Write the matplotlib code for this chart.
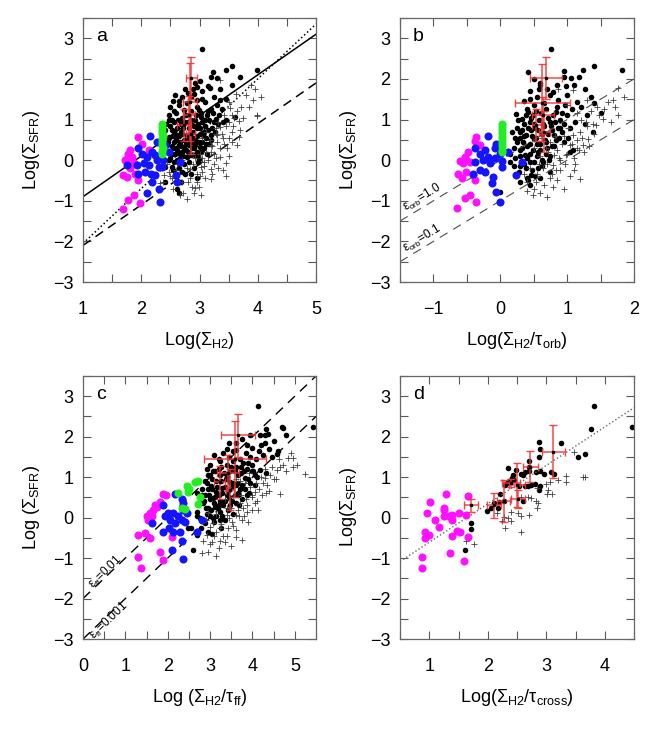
import matplotlib
matplotlib.use('Agg')
import matplotlib.pyplot as plt
from matplotlib.ticker import MultipleLocator

plt.rcParams['font.family'] = ['Liberation Sans', 'DejaVu Sans']
plt.rcParams['mathtext.default'] = 'regular'

# ---- panel a : Log(Sigma_H2) ----
a_dots = [(3.05, 2.73), (3.56, 2.32), (3.45, 2.23), (3.98, 2.23), (3.24, 2.17), (3.19, 2.05), (3.30, 2.02),
          (3.14, 1.83), (3.18, 1.78), (2.96, 1.80), (2.89, 1.76), (2.58, 1.60), (2.70, 1.56), (2.90, 1.64),
          (2.95, 1.47), (3.05, 1.51), (3.10, 1.43), (3.30, 1.35), (2.64, 1.35), (2.56, 1.20), (2.47, 1.11),
          (2.73, 1.23), (2.99, 1.23), (3.19, 1.27), (3.36, 1.47), (3.45, 1.51), (2.47, 0.98), (2.56, 0.94),
          (2.66, 0.98), (3.02, 1.06), (3.13, 1.11), (3.28, 1.02), (2.87, 0.86), (2.53, 0.74), (2.61, 0.61),
          (2.70, 0.65), (2.96, 0.78), (3.07, 0.70), (3.19, 0.61), (2.47, 0.57), (2.56, 0.45), (2.67, 0.45),
          (2.79, 0.53), (2.93, 0.53), (3.05, 0.45), (2.59, 0.29), (2.73, 0.29), (2.90, 0.29), (3.02, 0.21),
          (3.13, 0.16), (2.44, 0.37), (2.53, 0.16), (2.67, 0.16), (2.79, 0.08), (2.47, 0.00), (2.61, 0.00),
          (2.67, -0.04), (2.41, -0.16), (2.53, -0.16), (2.64, -0.20), (2.70, -0.29), (2.61, -0.70),
          (2.64, -0.82), (2.41, -0.53), (2.93, 0.12), (2.99, 0.04), (2.82, 0.37), (3.45, 1.00), (3.61, 1.07),
          (3.31, 0.88), (2.50, 0.85), (2.55, 0.60), (2.62, 0.80), (2.68, 0.70), (2.75, 0.95), (2.78, 0.62),
          (2.82, 0.80), (2.88, 0.55), (2.92, 1.00), (2.98, 0.90), (3.00, 0.65), (3.05, 0.95), (3.10, 0.85),
          (3.12, 0.55), (3.16, 0.40), (3.22, 0.80), (3.25, 0.95), (2.52, 0.35), (2.58, 0.15), (2.64, 0.38),
          (2.70, 0.20), (2.76, 0.25), (2.86, 0.12), (2.90, 0.42), (2.95, 0.20), (3.00, 0.32), (3.08, 0.30),
          (2.48, 0.55), (2.45, 0.20), (2.56, -0.05), (2.66, 0.05), (2.74, -0.10), (2.82, -0.05), (2.90, -0.20),
          (2.98, -0.05), (2.60, 1.15), (2.70, 1.05), (2.85, 1.20), (2.95, 1.30), (3.15, 1.20), (3.05, 1.70),
          (2.85, 1.55), (2.78, 1.40), (2.40, 0.75), (2.50, 1.30), (2.42, 0.90), (2.46, 0.45), (2.50, 0.05),
          (2.52, 1.00), (2.55, 0.30), (2.57, 0.70), (2.60, 0.50), (2.62, 0.25), (2.63, 1.00), (2.65, 0.60),
          (2.68, 0.90), (2.69, 0.35), (2.71, 0.10), (2.72, 0.80), (2.74, 0.50), (2.76, 1.10), (2.77, 0.40),
          (2.80, 0.20), (2.81, 0.95), (2.83, 0.65), (2.84, 0.45), (2.86, 1.00), (2.87, 0.30), (2.89, 0.70),
          (2.91, 0.85), (2.93, 0.38), (2.94, 1.10), (2.96, 0.60), (2.97, 0.10), (2.99, 0.45), (3.01, 0.80),
          (3.03, 1.15), (3.04, 0.25), (3.06, 0.62), (3.09, 1.00), (3.11, 0.40), (3.14, 0.75), (3.17, 1.00),
          (3.20, 0.50), (3.23, 1.15), (3.27, 0.70), (3.33, 1.10), (3.38, 1.25), (3.40, 0.95), (2.60, -0.40),
          (2.68, -0.55), (2.75, -0.35), (2.85, -0.35), (2.95, -0.45), (2.55, -0.25), (2.80, 1.65), (2.92, 1.90),
          (3.00, 1.95), (2.75, 1.75), (3.35, 1.75), (3.55, 1.85), (3.70, 2.05), (3.25, 1.55), (2.65, 1.45),
          (2.55, 1.45)]
a_cross = [(3.36, 1.97), (3.51, 1.43), (3.53, 1.29), (3.62, 1.64), (3.95, 1.76), (3.91, 1.47), (3.99, 1.11),
           (3.68, 0.96), (3.68, 0.57), (3.65, 0.37), (3.30, 0.61), (3.19, 0.37), (3.25, 0.16), (3.36, 0.08),
           (3.45, -0.08), (3.02, -0.16), (2.96, -0.33), (2.84, -0.21), (3.08, -0.04), (3.19, -0.21),
           (2.84, -0.45), (2.87, -0.66), (2.99, -0.66), (3.19, -0.47), (2.53, -0.45), (2.47, -0.29),
           (2.33, -0.57), (2.39, -0.37), (3.42, 1.11), (3.51, 0.94), (3.36, 0.82), (3.28, 0.78), (3.56, 0.45),
           (3.48, 0.29), (3.30, 0.45), (3.98, 1.08), (2.93, -0.69), (2.67, -0.87), (2.37, -0.53), (2.60, -0.25),
           (2.70, -0.55), (2.78, -0.20), (2.92, 0.05), (3.00, 0.15), (3.05, 0.55), (3.12, 0.70), (3.20, 0.20),
           (3.28, 0.05), (3.35, 0.30), (3.40, 0.55), (3.45, 0.85), (3.55, 0.70), (3.60, 1.05), (3.72, 1.30),
           (3.80, 1.60), (3.10, -0.45), (2.55, -0.70), (2.65, -0.35), (2.90, -0.80), (3.05, -0.30),
           (3.15, 0.00), (3.25, -0.10), (2.50, -0.40), (3.50, 0.10), (3.40, -0.25), (2.45, -0.10),
           (2.58, -0.55), (2.62, -0.10), (2.72, -0.80), (2.80, -0.55), (2.88, -0.10), (2.95, -0.55),
           (3.00, -0.40), (3.08, -0.15), (3.12, 0.20), (3.18, 0.50), (3.22, 0.35), (3.28, 0.65), (3.32, 0.95),
           (3.38, 0.65), (3.42, 0.40), (3.50, 0.55), (3.55, 1.10), (3.58, 0.85), (3.65, 1.20), (3.70, 0.75),
           (3.75, 1.05), (3.85, 1.30), (3.88, 1.85), (4.05, 1.55), (3.22, -0.35), (3.32, -0.20), (3.45, -0.40),
           (2.78, -0.95), (3.02, -0.85), (2.70, 0.00), (2.85, 0.20), (3.05, 0.05)]
a_magenta = [(1.95, 0.57), (2.01, 0.39), (1.81, 0.25), (1.78, 0.15), (1.75, 0.04), (1.84, 0.08), (1.87, -0.08),
             (1.69, -0.37), (1.75, -0.41), (1.95, -0.49), (2.13, 0.25), (1.87, -0.86), (1.78, -0.97),
             (1.97, -1.05), (1.68, -1.21), (1.81, -0.20), (1.72, 0.00), (1.90, -0.33)]
a_blue = [(2.155, 0.59), (1.95, 0.31), (2.01, 0.15), (2.10, 0.08), (2.18, 0.20), (2.24, 0.12), (2.27, 0.00),
          (2.38, 0.00), (1.75, -0.12), (1.92, -0.12), (2.04, -0.08), (2.13, -0.12), (2.30, -0.16), (2.36, -0.16),
          (2.16, -0.33), (1.95, -0.33), (2.07, -0.29), (2.24, -0.37), (2.47, 0.20), (2.67, -0.04), (2.59, -0.37),
          (2.61, -0.53), (2.18, -0.53), (2.30, -0.70), (2.10, -0.80), (2.33, -1.02), (2.27, 0.45), (2.41, 0.37)]
a_green = [(2.36, 0.90), (2.36, 0.82), (2.35, 0.75), (2.36, 0.68), (2.37, 0.60), (2.36, 0.52), (2.35, 0.45),
           (2.36, 0.38), (2.37, 0.30), (2.36, 0.22), (2.36, 0.16)]
a_red_x = [2.86, 2.83, 2.82, 2.74, 2.85]
a_red_y = [2.02, 1.43, 1.12, 0.87, 0.65]
a_red_xerr = [0.10, 0.12, 0.10, 0.12, 0.08]
a_red_yerr = [0.52, 0.95, 0.45, 0.40, 0.50]

# ---- panel b : Log(Sigma_H2 / tau_orb) ----
b_dots = [(0.76, 2.73), (0.42, 2.17), (0.95, 2.19), (1.24, 2.23), (1.40, 2.31), (1.82, 2.23), (1.06, 2.02),
          (1.18, 2.05), (0.99, 1.83), (1.27, 1.74), (0.59, 1.84), (0.58, 1.74), (0.79, 1.68), (0.86, 1.47),
          (0.44, 1.51), (1.36, 1.56), (1.14, 1.43), (1.51, 1.16), (1.26, 0.88), (1.39, 0.70), (0.23, 1.13),
          (0.32, 1.01), (0.42, 1.19), (0.49, 1.11), (0.29, 0.70), (0.22, 0.55), (0.34, 0.45), (0.39, 0.61),
          (0.46, 0.74), (0.51, 0.53), (0.74, 0.94), (0.84, 1.19), (0.89, 0.78), (0.96, 0.45), (1.04, 0.20),
          (1.09, 0.25), (0.29, 0.25), (0.37, 0.12), (0.44, -0.04), (0.39, -0.20), (0.46, -0.37), (0.42, -0.49),
          (0.14, -0.04), (0.59, 0.25), (0.69, 0.45), (0.81, 0.61), (0.64, -0.04), (0.74, -0.29), (0.56, -0.20),
          (-0.01, -0.78), (0.25, 0.80), (0.30, 0.55), (0.35, 0.90), (0.40, 0.35), (0.45, 0.95), (0.48, 0.60),
          (0.52, 0.80), (0.55, 0.40), (0.58, 1.00), (0.62, 0.65), (0.66, 0.85), (0.70, 0.30), (0.72, 1.05),
          (0.78, 0.75), (0.82, 0.95), (0.88, 0.55), (0.92, 1.15), (0.30, 0.10), (0.35, -0.10), (0.45, 0.15),
          (0.50, -0.05), (0.55, 0.10), (0.62, 0.00), (0.68, 0.15), (0.75, 0.10), (0.80, 0.35), (0.20, 0.30),
          (0.15, 0.15), (0.40, 1.25), (0.50, 1.35), (0.65, 1.40), (0.75, 1.60), (0.55, 1.55), (0.85, 1.30),
          (1.00, 1.10), (1.05, 0.80), (0.95, 0.90), (0.28, -0.30), (0.40, -0.45), (0.60, -0.45), (0.18, 0.70),
          (0.22, 0.05), (0.25, 0.45), (0.27, 1.00), (0.30, -0.15), (0.32, 0.75), (0.33, 0.30), (0.36, 0.60),
          (0.38, 1.10), (0.40, 0.05), (0.42, 0.80), (0.44, 0.40), (0.46, 1.05), (0.47, -0.25), (0.49, 0.25),
          (0.51, 0.90), (0.53, 0.55), (0.54, 1.20), (0.56, 0.20), (0.57, 0.75), (0.60, 0.40), (0.61, 1.15),
          (0.63, -0.15), (0.64, 0.90), (0.67, 0.50), (0.69, 1.25), (0.71, 0.65), (0.73, 0.00), (0.76, 0.85),
          (0.77, 0.35), (0.79, 1.10), (0.83, 0.50), (0.86, 0.80), (0.90, 1.00), (0.93, 0.70), (0.97, 1.35),
          (1.02, 0.55), (1.08, 1.25), (1.12, 0.95), (1.20, 1.30), (0.30, -0.55), (0.45, -0.60), (0.52, -0.40),
          (0.35, 1.45), (0.45, 1.70), (0.60, 1.90), (0.70, 1.75), (0.85, 1.85), (1.00, 1.60), (1.10, 1.85),
          (0.95, 2.05), (0.50, 2.00), (1.30, 1.10), (1.40, 1.40), (0.20, -0.15)]
b_cross = [(0.86, 1.76), (1.09, 1.72), (1.29, 1.47), (1.61, 1.43), (1.68, 1.47), (1.76, 1.10), (1.76, 1.78),
           (1.53, 1.02), (1.43, 0.86), (1.19, 0.70), (1.24, 0.37), (1.14, 0.29), (1.04, 0.37), (0.99, 0.12),
           (0.89, 0.00), (0.79, -0.12), (0.84, -0.25), (0.74, -0.45), (0.64, -0.20), (0.54, -0.53),
           (0.79, -0.66), (1.19, -0.47), (0.49, -0.86), (0.81, 0.12), (0.69, 0.29), (1.09, 0.61), (1.31, 0.53),
           (0.45, -0.20), (0.55, -0.35), (0.60, 0.10), (0.70, -0.10), (0.75, 0.45), (0.85, 0.25), (0.90, -0.25),
           (0.95, 0.60), (1.00, 0.15), (1.10, 0.05), (1.15, 0.50), (1.20, 1.00), (1.30, 0.85), (1.35, 1.20),
           (1.45, 1.30), (0.65, -0.60), (0.50, -0.70), (0.40, -0.55), (1.05, -0.40), (0.85, -0.50),
           (0.35, -0.35), (1.25, 0.20), (1.40, 0.65), (0.50, 0.30), (0.58, -0.10), (0.62, 0.55), (0.72, 0.20),
           (0.78, -0.35), (0.82, 0.60), (0.88, 0.05), (0.92, 0.40), (0.97, -0.10), (1.02, 0.80), (1.07, 0.40),
           (1.12, -0.10), (1.17, 0.25), (1.22, 0.55), (1.28, 0.95), (1.33, 0.35), (1.38, 0.90), (1.48, 1.10),
           (1.55, 1.25), (1.65, 0.95), (1.72, 1.30), (1.85, 1.55), (0.60, -0.80), (0.70, -0.90), (0.95, -0.70),
           (1.10, -0.25), (0.40, -0.75), (1.00, 1.35), (1.15, 1.15)]
b_magenta = [(-0.37, 0.57), (-0.38, 0.47), (-0.31, 0.37), (-0.48, 0.19), (-0.53, 0.08), (-0.51, 0.00),
             (-0.56, -0.08), (-0.46, -0.04), (-0.63, -0.35), (-0.58, -0.43), (-0.51, -0.30), (-0.41, -0.37),
             (-0.38, -0.49), (-0.53, -0.94), (-0.45, -0.86), (-0.36, -1.04), (-0.65, -1.19), (-0.60, -0.03)]
b_blue = [(-0.18, 0.59), (-0.38, 0.30), (-0.31, 0.14), (-0.23, 0.25), (-0.18, 0.08), (-0.26, 0.00),
          (-0.16, -0.04), (-0.08, 0.06), (-0.01, 0.16), (0.02, -0.03), (-0.38, -0.04), (-0.06, 0.41),
          (-0.08, 0.29), (0.02, -0.16), (0.12, 0.20), (-0.31, -0.25), (-0.23, -0.29), (-0.16, -0.08),
          (-0.41, -0.33), (-0.11, -0.41), (-0.13, -0.57), (-0.06, -0.78), (-0.01, -1.02), (0.24, -0.37),
          (0.33, -0.04)]
b_green = [(0.03, 0.90), (0.03, 0.82), (0.03, 0.74), (0.03, 0.66), (0.03, 0.58), (0.03, 0.50), (0.03, 0.42),
           (0.03, 0.34), (0.03, 0.26), (0.03, 0.20)]
b_red_x = [0.69, 0.63, 0.64, 0.54, 0.66]
b_red_y = [2.02, 1.41, 1.10, 0.86, 0.70]
b_red_xerr = [0.24, 0.41, 0.16, 0.07, 0.08]
b_red_yerr = [0.52, 0.95, 0.45, 0.40, 0.50]

# ---- panel c : Log(Sigma_H2 / tau_ff) ----
c_dots = [(4.14, 2.75), (4.69, 2.25), (4.73, 2.21), (5.43, 2.24), (4.33, 2.20), (4.18, 2.05), (4.29, 2.05),
          (4.37, 2.06), (3.86, 1.80), (3.98, 1.72), (4.21, 1.80), (4.45, 1.51), (4.57, 1.57), (3.55, 1.64),
          (3.62, 1.68), (3.23, 1.39), (3.39, 1.30), (2.92, 1.21), (2.99, 1.06), (3.11, 1.14), (3.23, 1.06),
          (3.59, 1.14), (3.74, 1.26), (3.90, 1.35), (3.98, 1.14), (2.92, 0.85), (3.03, 0.77), (3.15, 0.64),
          (3.27, 0.73), (3.47, 0.89), (3.62, 0.81), (3.82, 0.97), (3.94, 0.85), (4.06, 0.81), (2.88, 0.56),
          (3.07, 0.48), (3.23, 0.40), (3.39, 0.56), (2.84, 0.36), (2.96, 0.23), (3.11, 0.27), (3.23, 0.15),
          (3.43, 0.19), (3.51, 0.40), (2.68, 0.15), (2.76, -0.02), (2.88, -0.14), (3.07, -0.02), (3.23, -0.06),
          (2.56, -0.26), (2.68, -0.43), (2.60, -0.80), (2.48, -0.25), (3.86, 0.56), (3.67, 0.56), (4.06, 1.06),
          (4.18, 1.18), (4.33, 1.10), (2.95, 0.70), (3.00, 0.45), (3.05, 0.95), (3.10, 0.35), (3.15, 0.90),
          (3.20, 0.55), (3.25, 1.25), (3.30, 0.30), (3.35, 0.75), (3.40, 1.00), (3.45, 0.50), (3.50, 1.25),
          (3.55, 0.85), (3.60, 0.35), (3.65, 1.05), (3.70, 0.70), (3.75, 0.45), (3.80, 1.15), (2.85, 0.40),
          (2.92, 0.10), (3.00, 0.05), (3.10, -0.10), (3.18, 0.25), (3.28, 0.05), (3.35, -0.05), (2.80, 0.70),
          (2.75, 0.35), (3.00, 1.30), (3.10, 1.55), (3.45, 1.50), (3.70, 1.45), (3.85, 1.60), (4.00, 1.30),
          (3.55, 0.10), (3.65, 0.60), (3.90, 0.95), (4.10, 1.00), (3.45, 1.85), (3.30, 1.60), (2.70, 0.60),
          (2.82, 0.55), (2.88, 0.90), (2.90, 0.25), (2.95, 1.05), (2.98, 0.55), (3.02, 0.20), (3.05, 0.70),
          (3.08, 1.15), (3.12, 0.50), (3.14, 0.05), (3.17, 0.75), (3.20, 1.20), (3.22, 0.30), (3.26, 0.90),
          (3.29, 0.60), (3.32, 1.10), (3.36, 0.40), (3.38, 0.95), (3.42, 0.65), (3.46, 1.15), (3.48, 0.30),
          (3.52, 0.75), (3.55, 1.40), (3.58, 0.55), (3.62, 1.25), (3.66, 0.85), (3.68, 0.30), (3.72, 1.10),
          (3.76, 0.80), (3.78, 1.35), (3.82, 0.70), (3.88, 1.20), (3.92, 0.60), (3.95, 1.50), (4.02, 1.15),
          (4.08, 1.45), (4.15, 1.65), (4.25, 1.55), (4.30, 1.85), (3.60, 1.85), (3.75, 1.95), (3.95, 2.05),
          (3.40, 1.70), (3.20, 1.45), (2.95, -0.35), (3.05, -0.40), (2.78, -0.25), (2.70, 0.05), (3.25, -0.25),
          (4.40, 1.70), (4.50, 1.90), (4.80, 2.05), (4.60, 1.65)]
c_cross = [(4.96, 1.47), (4.84, 1.47), (4.73, 1.30), (4.57, 1.18), (4.41, 1.06), (4.29, 0.97), (4.25, 0.85),
           (4.06, 0.64), (4.33, 0.60), (4.65, 0.59), (4.96, 1.26), (5.24, 1.08), (4.65, 1.26), (3.98, 0.56),
           (3.86, 0.31), (3.62, 0.07), (3.78, 0.23), (3.39, 0.07), (3.51, -0.10), (3.23, -0.26), (3.15, -0.35),
           (2.99, -0.22), (2.92, -0.43), (2.84, -0.59), (2.80, -0.88), (3.62, -0.47), (3.23, -0.59),
           (4.10, 0.40), (3.98, 0.19), (3.70, 0.36), (3.43, -0.26), (3.07, -0.14), (2.96, 0.11), (3.30, -0.45),
           (3.45, 0.00), (3.55, -0.20), (3.65, 0.20), (3.75, -0.05), (3.85, 0.45), (3.95, 0.75), (4.05, 0.35),
           (4.15, 0.70), (4.20, 1.00), (4.35, 0.80), (4.45, 1.25), (3.10, -0.45), (3.00, -0.65), (3.20, -0.75),
           (3.40, 0.25), (3.55, 0.50), (3.70, 0.90), (2.90, -0.05), (3.15, 0.10), (4.50, 0.95), (3.80, 0.05),
           (3.35, -0.60), (3.35, 0.45), (3.45, 0.75), (3.50, 0.25), (3.60, 0.95), (3.68, 0.05), (3.72, 0.55),
           (3.82, 0.85), (3.88, 0.15), (3.92, 1.10), (4.00, 0.50), (4.08, 0.85), (4.12, 0.20), (4.22, 0.55),
           (4.30, 1.20), (4.40, 0.65), (4.55, 0.95), (4.62, 1.45), (4.80, 1.15), (4.90, 1.60), (5.05, 1.30),
           (3.05, -0.60), (3.15, -0.95), (3.25, -0.15), (3.40, -0.45), (3.60, -0.30), (3.75, -0.55),
           (3.90, -0.10), (2.95, -0.85), (3.50, -0.70)]
c_magenta = [(1.90, 0.58), (1.97, 0.56), (1.82, 0.38), (1.74, 0.27), (1.66, 0.19), (1.58, 0.11), (1.50, 0.05),
             (1.62, 0.03), (1.54, -0.06), (1.31, -0.43), (1.46, -0.39), (1.58, -0.51), (1.82, -0.86),
             (1.90, -1.05), (1.31, -0.98), (1.36, -1.24), (2.09, -0.49), (1.70, 0.31)]
c_blue = [(2.17, 0.58), (2.33, 0.46), (2.37, 0.36), (1.90, 0.31), (2.01, 0.11), (2.13, 0.11), (2.25, 0.03),
          (2.33, -0.06), (2.41, -0.10), (1.93, 0.03), (2.05, -0.06), (2.17, -0.14), (2.37, 0.19), (2.45, 0.11),
          (2.80, -0.06), (1.90, -0.35), (2.04, -0.26), (2.13, -0.35), (2.29, -0.36), (2.33, -0.59),
          (2.09, -0.80), (2.37, -1.02), (2.70, -0.36), (1.64, -0.14)]
c_green = [(2.25, 0.60), (2.45, 0.79), (2.49, 0.63), (2.51, 0.71), (2.64, 0.88), (2.72, 0.91), (2.33, 0.23),
           (2.41, 0.22), (2.76, 0.50), (2.72, 0.33)]
c_red_x = [3.66, 3.59, 3.43, 3.23, 3.47]
c_red_y = [2.03, 1.45, 1.10, 0.87, 0.69]
c_red_xerr = [0.40, 0.73, 0.26, 0.13, 0.10]
c_red_yerr = [0.53, 0.94, 0.45, 0.40, 0.50]

# ---- panel d : Log(Sigma_H2 / tau_cross) ----
d_dots = [(3.82, 2.75), (3.77, 2.20), (4.47, 2.24), (3.25, 1.84), (2.87, 1.88), (2.90, 1.70), (2.87, 1.49),
          (2.71, 1.39), (2.70, 1.26), (2.70, 1.16), (2.64, 1.12), (2.60, 1.06), (2.57, 1.07), (2.48, 1.18),
          (2.34, 1.22), (2.44, 1.06), (2.41, 0.99), (2.37, 0.91), (2.33, 0.85), (2.45, 0.93), (2.83, 1.12),
          (2.89, 1.16), (2.96, 1.07), (3.08, 1.12), (3.14, 1.07), (3.55, 1.51), (3.66, 1.57), (2.68, 0.79),
          (2.74, 0.81), (2.80, 0.83), (2.63, 0.77), (2.54, 0.79), (2.29, 0.81), (2.21, 0.58), (2.11, 0.36),
          (1.99, 0.17), (2.20, 0.38), (2.60, 0.40), (2.17, 0.23), (2.06, 0.25), (2.27, 0.41), (2.89, 0.77),
          (2.87, 0.69), (1.72, -0.14), (1.71, -0.28), (1.61, -0.80)]
d_cross = [(3.48, 1.63), (3.63, 1.00), (3.66, 1.00), (3.33, 1.04), (3.33, 0.89), (3.20, 0.93), (3.06, 0.87),
           (3.00, 0.83), (3.03, 0.69), (3.02, 0.58), (3.10, 0.58), (2.83, 0.41), (2.86, 0.36), (2.84, 0.23),
           (2.68, 0.52), (2.70, 0.07), (2.52, 0.11), (2.56, 0.03), (2.39, 0.13), (2.34, 0.00), (2.40, -0.08),
           (2.28, 0.02), (2.24, -0.08), (2.16, 0.11), (2.29, -0.26), (2.57, -0.35), (1.62, -0.59),
           (1.76, -0.66), (2.85, 0.74), (2.74, 0.48), (2.57, 0.52)]
d_magenta = [(1.29, 0.58), (1.02, 0.38), (1.67, 0.54), (1.25, 0.25), (1.26, 0.19), (0.97, 0.11), (1.26, 0.03),
             (1.33, 0.05), (1.39, 0.07), (1.51, 0.11), (1.62, 0.07), (1.39, -0.06), (1.09, -0.06),
             (1.16, -0.23), (0.93, -0.36), (0.99, -0.43), (0.93, -0.51), (1.47, -0.33), (1.52, -0.36),
             (1.39, -0.45), (1.67, -0.49), (1.35, -0.87), (0.87, -0.98), (1.59, -1.06), (0.87, -1.24)]
d_red_x = [1.71, 2.10, 2.27, 2.40, 2.50, 2.51, 2.73, 3.12]
d_red_y = [0.31, 0.31, 0.41, 0.85, 0.81, 0.46, 1.26, 1.63]
d_red_xerr = [0.12, 0.12, 0.11, 0.15, 0.14, 0.12, 0.13, 0.20]
d_red_yerr = [0.16, 0.31, 0.52, 0.10, 0.54, 0.23, 0.38, 0.65]

RED = '#f03535'


def style_axes(ax, xlim, xmajor, letter):
    ax.set_xlim(*xlim)
    ax.set_ylim(-3, 3.5)
    ax.xaxis.set_major_locator(MultipleLocator(xmajor))
    ax.xaxis.set_minor_locator(MultipleLocator(xmajor / 2.0))
    ax.yaxis.set_major_locator(MultipleLocator(1))
    ax.yaxis.set_minor_locator(MultipleLocator(0.5))
    ax.tick_params(which='both', direction='in', top=True, right=True, color='0.35', width=0.8)
    ax.tick_params(which='major', length=6, labelsize=13)
    ax.tick_params(which='minor', length=6)
    ax.tick_params(axis='x', which='major', pad=14)
    ax.tick_params(axis='y', which='major', pad=7)
    for s in ax.spines.values():
        s.set_color('0.4')
        s.set_linewidth(0.9)
    ax.text(0.055, 0.93, letter, transform=ax.transAxes, fontsize=14, va='center', ha='left')


def draw_points(ax, dots, crosses, colored, red):
    ax.plot([p[0] for p in dots], [p[1] for p in dots], 'o', color='k', ms=4.0, mew=0, zorder=2)
    ax.plot([p[0] for p in crosses], [p[1] for p in crosses], '+', color='0.25', ms=4.5, mew=0.6, zorder=3)
    for pts, col in colored:
        ax.plot([p[0] for p in pts], [p[1] for p in pts], 'o', color=col, ms=5.8, mew=0, zorder=4)
    x, y, xe, ye = red
    ax.errorbar(x, y, xerr=xe, yerr=ye, fmt='s', ms=2, mfc='k', mec='k', ecolor=RED,
                elinewidth=1.1, capsize=3, capthick=1, zorder=5, alpha=0.9)


fig = plt.figure(figsize=(6.64, 7.53), dpi=100)
W = 233 / 664.0
H = 264 / 753.0
ax_a = fig.add_axes([83 / 664.0, 1 - 282 / 753.0, W, H])
ax_b = fig.add_axes([400 / 664.0, 1 - 282 / 753.0, 234 / 664.0, H])
ax_c = fig.add_axes([83 / 664.0, 1 - 639 / 753.0, W, 263 / 753.0])
ax_d = fig.add_axes([400 / 664.0, 1 - 639 / 753.0, 234 / 664.0, 263 / 753.0])

MAG, BLUE, GREEN = '#ff10ff', '#1414ff', '#22ee22'

# a
draw_points(ax_a, a_dots, a_cross, [(a_magenta, MAG), (a_blue, BLUE), (a_green, GREEN)],
            (a_red_x, a_red_y, a_red_xerr, a_red_yerr))
xx = [1.0, 5.0]
ax_a.plot(xx, [x - 1.9 for x in xx], '-', color='k', lw=1.1)
ax_a.plot(xx, [1.35 * x - 3.4 for x in xx], ':', color='k', lw=1.1)
ax_a.plot(xx, [x - 3.1 for x in xx], '--', color='k', lw=1.1, dashes=(6, 4))
style_axes(ax_a, (1, 5), 1, 'a')
ax_a.set_xlabel(r'Log($\Sigma_{H2}$)', fontsize=13, labelpad=8)
ax_a.set_ylabel(r'Log($\Sigma_{SFR}$)', fontsize=13, labelpad=8)

# b
draw_points(ax_b, b_dots, b_cross, [(b_magenta, MAG), (b_blue, BLUE), (b_green, GREEN)],
            (b_red_x, b_red_y, b_red_xerr, b_red_yerr))
xx = [-1.5, 2.0]
ax_b.plot(xx, xx, '--', color='0.3', lw=0.8, dashes=(8, 6))
ax_b.plot(xx, [x - 1 for x in xx], '--', color='0.3', lw=0.8, dashes=(8, 6))
ax_b.text(-1.17, -0.93, r'$\epsilon_{orb}$=1.0', fontsize=8.5, rotation=31, ha='center', va='center')
ax_b.text(-1.16, -1.92, r'$\epsilon_{orb}$=0.1', fontsize=8.5, rotation=31, ha='center', va='center')
style_axes(ax_b, (-1.5, 2), 1, 'b')
ax_b.set_xlabel(r'Log($\Sigma_{H2}$/$\tau_{orb}$)', fontsize=13, labelpad=8)
ax_b.set_ylabel(r'Log($\Sigma_{SFR}$)', fontsize=13, labelpad=8)

# c
draw_points(ax_c, c_dots, c_cross, [(c_magenta, MAG), (c_blue, BLUE), (c_green, GREEN)],
            (c_red_x, c_red_y, c_red_xerr, c_red_yerr))
xx = [0.0, 5.5]
ax_c.plot(xx, [x - 2 for x in xx], '--', color='k', lw=1.0, dashes=(7, 5))
ax_c.plot(xx, [x - 3 for x in xx], '--', color='k', lw=1.0, dashes=(7, 5))
ax_c.text(0.54, -1.35, r'$\epsilon_{ff}$=0.01', fontsize=8.5, rotation=44, ha='center', va='center')
ax_c.text(0.61, -2.54, r'$\epsilon_{ff}$=0.001', fontsize=8.5, rotation=44, ha='center', va='center')
style_axes(ax_c, (0, 5.5), 1, 'c')
ax_c.set_xlabel(r'Log ($\Sigma_{H2}$/$\tau_{ff}$)', fontsize=13, labelpad=8)
ax_c.set_ylabel(r'Log ($\Sigma_{SFR}$)', fontsize=13, labelpad=8)

# d
draw_points(ax_d, d_dots, d_cross, [(d_magenta, MAG)], (d_red_x, d_red_y, d_red_xerr, d_red_yerr))
xx = [0.5, 4.5]
ax_d.plot(xx, [0.95 * x - 1.56 for x in xx], ':', color='0.4', lw=1.0)
style_axes(ax_d, (0.5, 4.5), 1, 'd')
ax_d.set_xlabel(r'Log($\Sigma_{H2}$/$\tau_{cross}$)', fontsize=13, labelpad=8)
ax_d.set_ylabel(r'Log($\Sigma_{SFR}$)', fontsize=13, labelpad=8)

fig.savefig('out.png', dpi=100)
